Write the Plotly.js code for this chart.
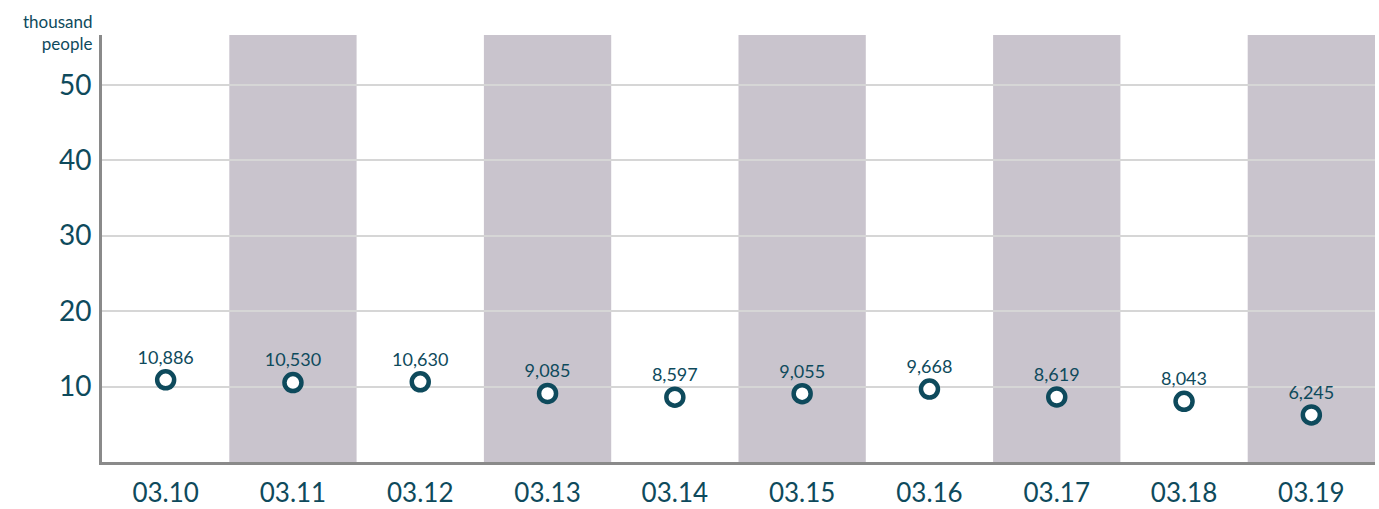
<!DOCTYPE html>
<html>
<head>
<meta charset="utf-8">
<script src="https://cdn.plot.ly/plotly-3.0.1.min.js"></script>
<style>html,body{margin:0;padding:0;background:#fff;}#chart{width:1379px;height:509px;}</style>
</head>
<body>
<div id="chart"></div>
<script>
const dates = ["03.10","03.11","03.12","03.13","03.14","03.15","03.16","03.17","03.18","03.19"];
const values = [10.886, 10.530, 10.630, 9.085, 8.597, 9.055, 9.668, 8.619, 8.043, 6.245];
const labels = ["10,886","10,530","10,630","9,085","8,597","9,055","9,668","8,619","8,043","6,245"];
const yTicks = [10, 20, 30, 40, 50];

const teal = "#0e4a5c";
const shapes = [];
dates.forEach((d, i) => {
  if (i % 2 === 1) {
    shapes.push({type:"rect", xref:"x", yref:"paper", x0:i-0.5, x1:i+0.5, y0:0, y1:1,
      fillcolor:"#c9c4cd", line:{width:0}, layer:"below"});
  }
});

const trace = {
  x: dates.map((d,i)=>i),
  y: values,
  text: labels,
  mode: "markers+text",
  type: "scatter",
  textposition: "top center",
  textfont: {family:"Lato, sans-serif", size:18, color:teal},
  marker: {symbol:"circle", size:17, color:"#ffffff", line:{color:teal, width:4.5}},
  cliponaxis:false,
  hoverinfo:"skip"
};

const layout = {
  width:1379, height:509,
  margin:{l:102, r:4, t:35, b:47},
  paper_bgcolor:"#ffffff", plot_bgcolor:"rgba(0,0,0,0)",
  showlegend:false,
  font:{family:"Lato, sans-serif", color:teal},
  xaxis:{
    range:[-0.5, 9.5], tickmode:"array", tickvals:dates.map((d,i)=>i), ticktext:dates,
    showgrid:false, zeroline:false, showline:true, linecolor:"#8a8a8a", linewidth:3,
    ticks:"", ticklabelstandoff:6, tickfont:{family:"Lato, sans-serif", size:26, color:teal}
  },
  yaxis:{
    range:[0, 56.6], tickmode:"array", tickvals:yTicks, ticktext:yTicks.map(String),
    showgrid:true, gridcolor:"#d6d6d6", gridwidth:2, zeroline:false,
    showline:true, linecolor:"#8a8a8a", linewidth:3, ticks:"", ticklabelstandoff:2,
    tickfont:{family:"Lato, sans-serif", size:28, color:teal}
  },
  shapes: shapes,
  annotations:[{
    xref:"paper", yref:"paper", x:0, y:1, xanchor:"right", yanchor:"bottom", xshift:-7, yshift:-21,
    text:"thousand<br>people", showarrow:false, align:"right",
    font:{family:"Lato, sans-serif", size:17, color:teal}
  }]
};

Plotly.newPlot("chart", [trace], layout, {displayModeBar:false, staticPlot:true});
</script>
</body>
</html>
